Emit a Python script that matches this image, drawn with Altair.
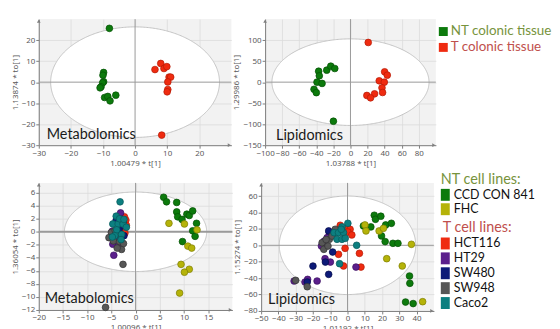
import altair as alt
import pandas as pd
import numpy as np

# ---------------- data ----------------
# Top-left: Metabolomics, colonic tissue
met_tis_nt_x = [-8.0, -9.8, -10.0, -9.8, -10.1, -10.6, -10.9, -9.5, -8.5, -7.8, -6.0]
met_tis_nt_y = [25.6, 4.6, 3.3, 0.2, -0.3, -2.2, -2.7, -7.3, -6.8, -8.9, -6.2]
met_tis_t_x = [6.2, 8.0, 9.0, 9.9, 10.6, 11.1, 10.2, 10.2, 10.0, 8.3]
met_tis_t_y = [6.0, 8.9, 6.5, 7.4, 2.4, 2.4, 0.1, -3.5, -4.6, -25.2]

# Top-right: Lipidomics, colonic tissue
lip_tis_nt_x = [-37.3, -36.5, -39.2, -33.3, -42.7, -40.0, -27.8, -23.1, -18.4, -20.0]
lip_tis_nt_y = [26.0, 15.0, 0.0, -3.0, -17.0, -25.0, 28.6, 38.0, 32.5, -93.0]
lip_tis_t_x = [20.8, 40.0, 43.1, 33.7, 39.6, 36.9, 37.6, 28.2, 19.2, 23.5]
lip_tis_t_y = [94.4, 24.6, 16.7, 3.2, 0.0, -13.5, -24.6, -27.8, -31.7, -37.3]

# Bottom-left: Metabolomics, cell lines
met_cell = {
    "CCD CON 841": ([5.8, 6.4, 8.5, 8.5, 8.7, 9.6, 10.6, 11.1, 11.8, 12.6, 11.8, 12.3, 9.7],
                    [5.3, 4.6, 4.5, 3.05, 2.3, 1.9, 2.7, 2.5, 3.2, 1.3, 0.15, -0.7, -1.5]),
    "FHC": ([6.9, 10.1, 12.7, 10.8, 11.6, 9.4, 11.1, 10.1, 9.1],
            [1.3, 1.2, 0.3, -2.2, -2.5, -5.0, -5.75, -6.2, -9.4]),
    "HCT116": ([-2.3, -2.0, -1.9, -2.5, -3.0, -2.2],
               [2.3, 1.8, 1.0, 0.5, 1.6, -0.2]),
    "HT29": ([-3.1, -3.6, -4.7, -3.6, -4.5, -4.8, -2.8, -4.2],
             [2.9, 2.0, -1.9, -2.2, -3.6, 0.1, 1.0, -1.0]),
    "SW480": ([-2.6, -3.4, -2.4, -4.0],
              [1.5, 0.4, -0.6, 1.8]),
    "SW948": ([-5.0, -5.5, -4.6, -2.9, -2.6, -6.2, -3.3, -4.2, -2.5, -3.8, -3.0],
              [-0.1, -0.9, -1.4, -2.7, -5.0, -11.6, -1.5, 0.2, -1.8, -2.5, -0.5]),
    "Caco2": ([-3.2, -4.0, -4.7, -3.6, -2.6, -1.9, -2.9, -3.9, -4.3, -3.3, -2.4, -4.8, -3.0],
              [4.6, 2.4, 1.2, 1.2, 1.2, 0.7, -0.4, 0.3, -0.6, 2.0, 1.9, -0.8, -1.2]),
}

# Bottom-right: Lipidomics, cell lines
lip_cell = {
    "CCD CON 841": ([15.5, 16.2, 19.3, 9.2, 13.5, 22.1, 25.4, 19.7, 21.8, 26.3, 29.2, 35.9, 36.1, 33.6, 38.0],
                    [36.6, 31.7, 35.4, 23.6, 22.4, 24.8, 26.8, 11.4, 4.5, 2.4, 2.4, -37.4, -46.3, -69.1, -71.0]),
    "FHC": ([10.1, 10.7, 18.3, 20.8, 37.0, 22.7, 31.7, 43.5],
            [24.8, 17.5, 17.5, 20.7, 1.2, -16.3, -25.2, -68.7]),
    "HCT116": ([-4.2, 0.2, 1.5, 0.2, -1.4, -5.2, 6.9, -2.3, 7.8, 2.5],
               [24.4, 21.5, 19.5, 16.2, -3.7, -11.0, -9.8, -25.2, -26.5, 12.6]),
    "HT29": ([-30.9, -24.6, -23.1, -17.6, -10.5, -11.8, -15.1, -13.0, -9.9, 4.9, -13.5],
             [-43.5, -44.8, -41.5, -43.5, 15.4, 9.3, -0.9, -16.3, -20.4, -26.5, 5.0]),
    "SW480": ([-20.0, -10.9, -12.8, -8.6, -23.3, -10.9],
              [-25.3, -35.4, -20.4, -8.2, -44.7, 17.5]),
    "SW948": ([-30.0, -23.3, -14.7, -13.7, -11.3, -10.5, -7.1, -9.0, -12.4],
              [-42.7, -50.5, 3.2, -4.9, -0.9, 7.3, 19.5, 11.3, 7.0]),
    "Caco2": ([0.2, -3.2, -7.8, -5.2, -2.3, -6.1, -3.2, -1.3, -3.6, 5.3, -4.6],
              [26.8, 22.4, 15.4, 15.4, 15.4, 7.3, 7.3, 8.5, 19.5, 0.0, -22.4]),
}

tissue_groups = ["NT colonic tissue", "T colonic tissue"]
tissue_fill = ["#0c7a0c", "#ef2b10"]
tissue_stroke = ["#055005", "#b31a06"]
cell_groups = ["CCD CON 841", "FHC", "HCT116", "HT29", "SW480", "SW948", "Caco2"]
cell_fill = ["#0c7a0c", "#b5b309", "#ef2b10", "#5b1f8c", "#0d1a78", "#575757", "#0c7f80"]
cell_stroke = ["#055005", "#7d7c04", "#b31a06", "#3a0f60", "#050c4a", "#333333", "#06595a"]

HEAD_GREEN = "#77933c"
HEAD_RED = "#c0504d"
BG = "#f2f2f2"
AX = "#7f7f7f"
LBL = "#595959"


def tissue_df(ntx, nty, tx, ty):
    g = [0] * len(ntx) + [1] * len(tx)
    return pd.DataFrame({
        "x": ntx + tx, "y": nty + ty,
        "group": [tissue_groups[i] for i in g],
        "fc": [tissue_fill[i] for i in g],
        "sc": [tissue_stroke[i] for i in g]})


def cell_df(d):
    xs, ys, gs, fc, sc = [], [], [], [], []
    for k, g in enumerate(cell_groups):
        n = len(d[g][0])
        xs += d[g][0]
        ys += d[g][1]
        gs += [g] * n
        fc += [cell_fill[k]] * n
        sc += [cell_stroke[k]] * n
    return pd.DataFrame({"x": xs, "y": ys, "group": gs, "fc": fc, "sc": sc})


def panel(df, xdom, ydom, xvals, yvals, xt, yt,
          rx, ry, label, w, h, lx, ly, hzw=1.0):
    xs = alt.Scale(domain=xdom, nice=False, zero=False)
    ys = alt.Scale(domain=ydom, nice=False, zero=False)
    xax = alt.Axis(values=xvals, title=xt, grid=True, labelOverlap=False, labelFlush=False)
    yax = alt.Axis(values=yvals, title=yt, grid=True, labelOverlap=False, labelFlush=False)

    def X(f):
        return alt.X(f, type="quantitative", scale=xs, axis=xax, title=xt)

    def Y(f):
        return alt.Y(f, type="quantitative", scale=ys, axis=yax, title=yt)

    t = np.linspace(0, np.pi, 181)
    ell = pd.DataFrame({"x": rx * np.cos(t), "y": ry * np.sin(t), "y2": -ry * np.sin(t)})
    ellipse = alt.Chart(ell).mark_area(fill="white", stroke="#c4c4c4", strokeWidth=1).encode(
        x=X("x"), y=Y("y"), y2="y2:Q")
    zero = pd.DataFrame({"x": [0], "y": [0]})
    hrule = alt.Chart(zero).mark_rule(color="#9a9a9a", strokeWidth=hzw).encode(y=Y("y"))
    vrule = alt.Chart(zero).mark_rule(color="#9a9a9a", strokeWidth=1).encode(x=X("x"))
    pts = alt.Chart(df).mark_point(filled=True, size=46, opacity=1, strokeWidth=0.7).encode(
        x=X("x"), y=Y("y"),
        fill=alt.Fill("fc:N", scale=None),
        stroke=alt.Stroke("sc:N", scale=None),
        order=alt.Order("idx:Q"),
    ).transform_window(idx="row_number()")
    one = pd.DataFrame({"t": [label]})
    txt = alt.Chart(one).mark_text(align="left", baseline="middle", font="Lato", fontSize=14.5,
                                   color="#1a1a1a").encode(
        text="t:N", x=alt.value(lx), y=alt.value(ly))
    up = alt.Chart(one).mark_point(shape="triangle-up", filled=True, size=14, color=AX, opacity=1).encode(
        x=alt.value(0), y=alt.value(2))
    right = alt.Chart(one).mark_point(shape="triangle-right", filled=True, size=14, color=AX, opacity=1).encode(
        x=alt.value(w - 2), y=alt.value(h))
    return alt.layer(ellipse, hrule, vrule, pts, txt, up, right).properties(
        width=w, height=h, view=alt.ViewBackground(fill=BG, strokeWidth=0))


def legend(entries, w, h):
    # entries: (label, text color, box color or '', y center, box height, text x, font size)
    rows = [{"label": e[0], "tc": e[1], "bc": e[2], "yc": e[3],
             "y0": e[3] - e[4] / 2, "y1": e[3] + e[4] / 2, "tx": e[5], "fs": e[6]} for e in entries]
    df = pd.DataFrame(rows)
    boxes = alt.Chart(df).transform_filter("datum.bc != ''").mark_rect().encode(
        x=alt.value(0), x2=alt.value(9),
        y=alt.Y("y0:Q", scale=None, axis=None), y2="y1:Q",
        fill=alt.Fill("bc:N", scale=None))
    texts = alt.Chart(df).mark_text(align="left", baseline="middle", font="Lato").encode(
        x=alt.X("tx:Q", scale=None, axis=None),
        y=alt.Y("yc:Q", scale=None, axis=None),
        text="label:N",
        size=alt.Size("fs:Q", scale=None),
        color=alt.Color("tc:N", scale=None))
    return alt.layer(boxes, texts).properties(
        width=w, height=h, view=alt.ViewBackground(fill="white", strokeWidth=0))


tl = panel(tissue_df(met_tis_nt_x, met_tis_nt_y, met_tis_t_x, met_tis_t_y),
           [-30, 30], [-30, 30], [-30, -20, -10, 0, 10, 20], [-30, -20, -10, 0, 10, 20],
           "1.00479 * t[1]", "1.13874 * to[1]", 26.3, 26.3, "Metabolomics", 194, 127, 8, 117)
tr = panel(tissue_df(lip_tis_nt_x, lip_tis_nt_y, lip_tis_t_x, lip_tis_t_y),
           [-100, 100], [-150, 150], list(range(-100, 81, 20)), [-150, -100, -50, 0, 50, 100],
           "1.03788 * t[1]", "1.29986 * to[1]", 92, 103, "Lipidomics", 172, 127, 11, 118)
bl = panel(cell_df(met_cell),
           [-20, 20], [-12, 7.5], list(range(-20, 16, 5)), list(range(-12, 7, 2)),
           "1.00096 * t[1]", "1.36054 * to[1]", 14.7, 6.1, "Metabolomics", 195, 128, 6, 117, hzw=2)
br = panel(cell_df(lip_cell),
           [-50, 50], [-80, 76], list(range(-50, 41, 10)), list(range(-80, 61, 20)),
           "1.01192 * t[1]", "1.15274 * to[1]", 39.5, 60, "Lipidomics", 174, 129, 7, 118)

leg_top = legend([
    ("NT colonic tissue", HEAD_GREEN, tissue_fill[0], 12.5, 9, 12, 13.5),
    ("T colonic tissue", HEAD_RED, tissue_fill[1], 28.5, 9, 12, 13.5),
], 112, 127)

leg_bot_entries = [("NT cell lines:", HEAD_GREEN, "", -3, 0, 0, 14.5)]
for i, g in enumerate(cell_groups[:2]):
    leg_bot_entries.append((g, "#111111", cell_fill[i], 12 + 14.5 * i, 12, 13, 12.5))
leg_bot_entries.append(("T cell lines:", HEAD_RED, "", 45, 0, 2, 14.5))
for j, g in enumerate(cell_groups[2:]):
    leg_bot_entries.append((g, "#111111", cell_fill[2 + j], 61 + 15 * j, 12, 13, 12.5))
leg_bot = legend(leg_bot_entries, 112, 129)

row1 = alt.hconcat(alt.hconcat(tl, tr, spacing=0), leg_top, spacing=2)
row2 = alt.hconcat(alt.hconcat(bl, br, spacing=0), leg_bot, spacing=6)

chart = alt.vconcat(row1, row2, spacing=5).properties(
    padding={"left": 3, "top": 9, "right": 0, "bottom": 0}
).configure_view(strokeWidth=0).configure_axis(
    labelFont="Noto Sans", labelFontSize=8, labelColor=LBL,
    titleFont="Noto Sans", titleFontSize=8, titleColor=LBL, titleFontWeight="normal",
    domainColor=AX, tickColor=AX, tickSize=3, labelPadding=1, titlePadding=2,
    gridColor="#dcdcdc", gridWidth=0.8,
)

chart.save("out.html", embed_options={"renderer": "svg", "actions": False})
